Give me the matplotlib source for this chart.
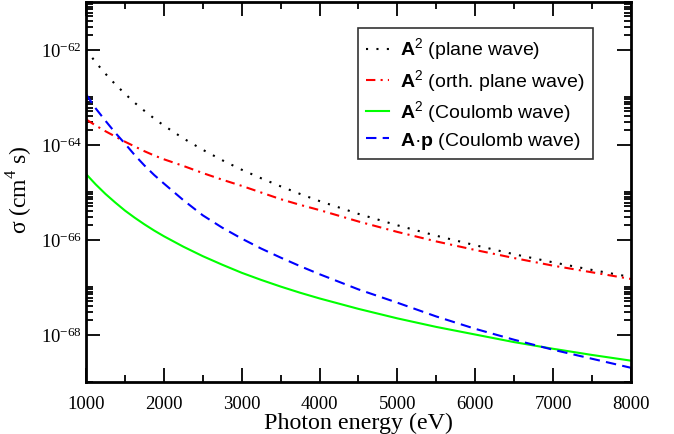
import numpy as np
import matplotlib
matplotlib.use("Agg")
import matplotlib.pyplot as plt
from matplotlib.ticker import FixedLocator, FuncFormatter, MultipleLocator

plt.rcParams['mathtext.fontset'] = 'custom'
plt.rcParams['mathtext.rm'] = 'Liberation Serif'
plt.rcParams['mathtext.bf'] = 'Liberation Sans:bold'
plt.rcParams['mathtext.sf'] = 'Liberation Sans'

energy = [1000, 1125, 1250, 1375, 1500, 1625, 1750, 1875, 2000, 2250, 2500,
          2750, 3000, 3250, 3500, 3750, 4000, 4500, 5000, 5500, 6000, 6500,
          7000, 7500, 8000]

log_a2_plane = [-62.00, -62.27, -62.51, -62.73, -62.93, -63.12, -63.29, -63.45,
                -63.60, -63.87, -64.11, -64.33, -64.53, -64.71, -64.88, -65.04,
                -65.19, -65.46, -65.70, -65.92, -66.12, -66.31, -66.48, -66.64,
                -66.79]
log_a2_orth = [-63.47, -63.60, -63.72, -63.83, -63.94, -64.04, -64.14, -64.23,
               -64.31, -64.45, -64.60, -64.74, -64.87, -65.01, -65.15, -65.27,
               -65.38, -65.62, -65.84, -66.04, -66.22, -66.39, -66.55, -66.69,
               -66.83]
log_a2_coul = [-64.62, -64.84, -65.04, -65.22, -65.39, -65.54, -65.68, -65.81,
               -65.93, -66.15, -66.35, -66.53, -66.70, -66.85, -66.99, -67.12,
               -67.24, -67.46, -67.66, -67.84, -68.00, -68.16, -68.30, -68.43,
               -68.55]
log_ap_coul = [-62.94, -63.24, -63.50, -63.75, -63.98, -64.22, -64.44, -64.64,
               -64.82, -65.17, -65.49, -65.75, -65.98, -66.19, -66.38, -66.56,
               -66.73, -67.05, -67.33, -67.62, -67.88, -68.11, -68.32, -68.51,
               -68.70]

labels = [r'$\mathbf{A}^{\mathsf{2}}$ (plane wave)',
          r'$\mathbf{A}^{\mathsf{2}}$ (orth. plane wave)',
          r'$\mathbf{A}^{\mathsf{2}}$ (Coulomb wave)',
          r'$\mathbf{A}$·$\mathbf{p}$ (Coulomb wave)']

x_ticks = [1000, 2000, 3000, 4000, 5000, 6000, 7000, 8000]
y_major_exp = [-68, -66, -64, -62]

fig = plt.figure(figsize=(6.74, 4.35), dpi=100)
ax = fig.add_axes([0.1276, 0.1195, 0.8084, 0.8735])

E = np.array(energy)
ax.plot(E, 10.0 ** np.array(log_a2_plane), color='black', lw=1.5,
        linestyle=(0, (1, 4)), label=labels[0])
ax.plot(E, 10.0 ** np.array(log_a2_orth), color='#ff0000', lw=1.5,
        linestyle=(0, (4.5, 2.5, 1, 2.5)), label=labels[1])
ax.plot(E, 10.0 ** np.array(log_a2_coul), color='#00ff00', lw=1.5,
        linestyle='-', label=labels[2])
ax.plot(E, 10.0 ** np.array(log_ap_coul), color='#0000ff', lw=1.5,
        linestyle=(0, (5, 3)), label=labels[3])

ax.set_yscale('log')
ax.set_xlim(1000, 8000)
ax.set_ylim(1e-69, 1e-61)

ax.xaxis.set_major_locator(FixedLocator(x_ticks))
ax.xaxis.set_minor_locator(MultipleLocator(500))
ax.yaxis.set_major_locator(FixedLocator([10.0 ** e for e in y_major_exp]))
minor = [k * 10.0 ** e for e in (-70, -68, -66, -64, -62) for k in range(2, 11)]
ax.yaxis.set_minor_locator(FixedLocator(minor))
ax.yaxis.set_major_formatter(FuncFormatter(
    lambda v, p: r'$\mathrm{10^{%d}}$' % int(round(np.log10(v)))))
ax.yaxis.set_minor_formatter(FuncFormatter(lambda v, p: ''))

for s in ax.spines.values():
    s.set_linewidth(2)
ax.tick_params(which='both', direction='in', top=True, right=True, width=1.3)
ax.tick_params(which='major', length=10, labelsize=13.5)
ax.tick_params(which='minor', length=5)
ax.tick_params(axis='x', which='major', pad=9)
ax.tick_params(axis='y', which='major', pad=3)
for lab in ax.get_xticklabels():
    lab.set_fontfamily('Liberation Serif')

ax.set_xlabel('Photon energy (eV)', fontfamily='Liberation Serif', fontsize=17.3, labelpad=0)
ax.set_ylabel(r'σ (cm$^{\mathrm{4}}$ s)', fontfamily='Liberation Serif', fontsize=17)
ax.yaxis.set_label_coords(-0.094, 0.508)

leg = ax.legend(loc='upper left', bbox_to_anchor=(0.5, 0.932),
                prop={'family': 'Liberation Sans', 'size': 14},
                frameon=True, fancybox=False, edgecolor='black',
                handlelength=1.15, handletextpad=0.6, labelspacing=0.25,
                borderpad=0.4, borderaxespad=0)
leg.get_frame().set_linewidth(1.2)

fig.savefig('out.png', dpi=100)
